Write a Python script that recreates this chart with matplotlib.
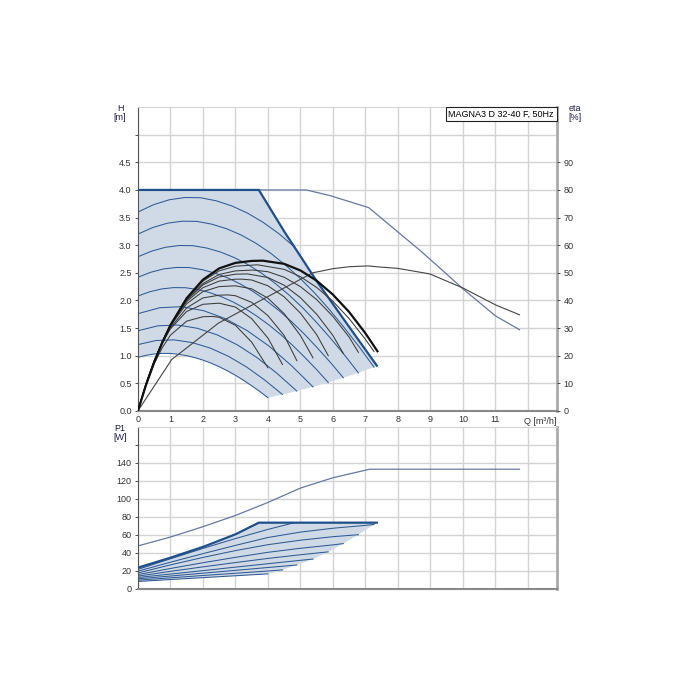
import matplotlib.pyplot as plt

plt.rcParams['font.family'] = ['Liberation Sans', 'DejaVu Sans']

# ---- head curves H [m] vs Q [m3/h] ----
max_q = [0, 3.72, 4.5, 5.5, 6.5, 7.35]
max_h = [4.0, 4.0, 3.25, 2.35, 1.52, 0.82]

# lower limit (ends of the speed curves)
min_q = [4.0, 4.448, 4.89, 5.388, 5.856, 6.32, 6.784, 7.264, 7.35]
min_h = [0.24, 0.297, 0.359, 0.435, 0.515, 0.6, 0.69, 0.792, 0.82]

speed_q = [
    [0, 0.25, 0.5, 0.75, 1, 1.25, 1.5, 1.75, 2, 2.25, 2.5, 2.75, 3, 3.25, 3.5, 3.75, 4.0],
    [0, 0.556, 1.112, 1.668, 2.224, 2.78, 3.336, 3.892, 4.448],
    [0, 0.611, 1.223, 1.834, 2.445, 3.057, 3.668, 4.279, 4.89],
    [0, 0.674, 1.347, 2.021, 2.694, 3.368, 4.041, 4.715, 5.388],
    [0, 0.366, 0.732, 1.098, 1.464, 1.83, 2.196, 2.562, 2.928, 3.294, 3.66, 4.026, 4.392, 4.758, 5.124, 5.49, 5.856],
    [0, 0.395, 0.79, 1.185, 1.58, 1.975, 2.37, 2.765, 3.16, 3.555, 3.95, 4.345, 4.74, 5.135, 5.53, 5.925, 6.32],
    [0, 0.424, 0.848, 1.272, 1.696, 2.12, 2.544, 2.968, 3.392, 3.816, 4.24, 4.664, 5.088, 5.512, 5.936, 6.36, 6.784],
    [0, 0.454, 0.908, 1.362, 1.816, 2.27, 2.724, 3.178, 3.632, 4.086, 4.54, 4.994, 5.448, 5.902, 6.356, 6.81, 7.264],
    [0, 0.482, 0.963, 1.445, 1.926, 2.408, 2.889, 3.371, 3.852, 4.334, 4.815],
]
speed_h = [
    [0.97, 1.006, 1.03, 1.041, 1.04, 1.025, 1.0, 0.965, 0.92, 0.865, 0.8, 0.727, 0.645, 0.554, 0.455, 0.351, 0.24],
    [1.2, 1.274, 1.286, 1.237, 1.138, 0.99, 0.798, 0.563, 0.297],
    [1.45, 1.54, 1.555, 1.495, 1.375, 1.196, 0.964, 0.68, 0.359],
    [1.76, 1.868, 1.887, 1.814, 1.669, 1.451, 1.17, 0.825, 0.435],
    [2.08, 2.157, 2.208, 2.232, 2.23, 2.198, 2.144, 2.069, 1.972, 1.855, 1.715, 1.559, 1.383, 1.188, 0.976, 0.753, 0.515],
    [2.42, 2.51, 2.57, 2.597, 2.595, 2.557, 2.495, 2.408, 2.295, 2.158, 1.996, 1.814, 1.609, 1.382, 1.135, 0.876, 0.6],
    [2.79, 2.893, 2.962, 2.994, 2.991, 2.948, 2.876, 2.775, 2.646, 2.488, 2.301, 2.091, 1.855, 1.593, 1.309, 1.009, 0.69],
    [3.2, 3.319, 3.398, 3.434, 3.431, 3.381, 3.299, 3.184, 3.035, 2.854, 2.639, 2.398, 2.128, 1.828, 1.501, 1.158, 0.792],
    [3.6, 3.733, 3.822, 3.863, 3.859, 3.804, 3.711, 3.581, 3.414, 3.21, 2.969],
]

# twin pump operation
twin_q = [0, 5.18, 5.9, 7.1, 8.65, 9.19, 10.0, 11.0, 11.74]
twin_h = [4.0, 4.0, 3.9, 3.68, 2.92, 2.64, 2.21, 1.72, 1.47]

# ---- efficiency eta [%] ----
eta_q = [
    [0, 0.25, 0.5, 0.75, 1, 1.5, 2, 2.29, 2.5, 3, 3.5, 4.0],
    [0, 0.25, 0.5, 0.75, 1, 1.5, 2, 2.5, 3, 3.5, 4, 4.448],
    [0, 0.25, 0.5, 0.75, 1, 1.5, 2, 2.5, 2.76, 3, 3.5, 4, 4.5, 4.89],
    [0, 0.25, 0.5, 0.75, 1, 1.5, 2, 2.5, 3, 3.5, 4, 4.5, 5, 5.388],
    [0, 0.25, 0.5, 0.75, 1, 1.5, 2, 2.5, 3, 3.2, 3.5, 4, 4.5, 5, 5.5, 5.856],
    [0, 0.25, 0.5, 0.75, 1, 1.5, 2, 2.5, 3, 3.37, 4, 4.5, 5, 5.5, 6, 6.32],
    [0, 0.25, 0.5, 0.75, 1, 1.5, 2, 2.5, 3, 3.53, 4, 4.5, 5, 5.5, 6, 6.5, 6.784],
    [0, 0.25, 0.5, 0.75, 1, 1.5, 2, 2.5, 3, 3.68, 4.5, 5, 5.5, 6, 6.5, 7, 7.264],
]
eta_v = [
    [0, 9.4, 17.0, 22.9, 27.4, 32.5, 34.1, 34.2, 33.9, 31.0, 24.9, 15.6],
    [0, 9.9, 18.1, 24.6, 29.7, 36.0, 38.6, 39.0, 37.6, 33.4, 26.4, 16.8],
    [0, 9.8, 18.0, 24.7, 30.1, 37.3, 40.9, 41.9, 42.0, 41.7, 39.3, 34.5, 27.3, 18.2],
    [0, 9.8, 18.1, 25.0, 30.8, 38.8, 43.2, 45.0, 45.3, 44.2, 40.8, 35.2, 27.3, 19.2],
    [0, 9.7, 18.0, 25.1, 31.0, 39.6, 44.6, 47.0, 47.7, 47.7, 47.4, 45.3, 41.3, 35.4, 27.6, 20.0],
    [0, 9.6, 17.9, 25.1, 31.1, 40.1, 45.6, 48.5, 49.5, 49.6, 48.3, 45.5, 41.0, 35.0, 27.3, 20.8],
    [0, 9.5, 17.7, 24.9, 30.9, 40.2, 46.1, 49.4, 50.7, 51.0, 50.4, 48.4, 45.0, 40.3, 34.2, 26.7, 21.2],
    [0, 9.5, 17.8, 25.0, 31.2, 40.7, 47.0, 50.7, 52.4, 52.9, 51.25, 48.6, 44.7, 39.7, 33.4, 25.9, 21.5],
]
eta_max_q = [0, 0.25, 0.5, 0.75, 1, 1.5, 2, 2.5, 3, 3.5, 3.84, 4.5, 5, 5.5, 6, 6.5, 7, 7.37]
eta_max_v = [0, 9.4, 17.6, 24.7, 31.0, 40.8, 47.5, 51.6, 53.6, 54.3, 54.4, 53.25, 50.85, 47.15, 42.1, 35.8, 28.1, 21.6]

eta_twin_q = [0, 1.04, 2.48, 3.92, 5.38, 6.0, 6.5, 7.08, 7.44, 8.0, 8.98, 10.0, 11.0, 11.74]
eta_twin_v = [0, 18.6, 31.8, 40.9, 50.0, 51.5, 52.2, 52.5, 52.1, 51.6, 49.6, 44.5, 38.4, 34.8]

# ---- power P1 [W] ----
pmax_q = [0, 1, 2, 3, 3.72, 7.35]
pmax_p = [23.4, 34.5, 46.5, 60.5, 73.5, 73.5]

pend_q = [4.0, 4.448, 4.89, 5.388, 5.856, 6.32, 6.784, 7.264, 7.35]
pend_p = [16.5, 20.9, 26.4, 33.0, 41.0, 50.2, 60.1, 71.5, 73.5]

pow_q = [
    [0, 1, 2, 3, 4.0],
    [0, 1, 2, 3, 4, 4.448],
    [0, 1, 2, 3, 4, 4.89],
    [0, 1, 2, 3, 4, 5, 5.388],
    [0, 1, 2, 3, 4, 5, 5.856],
    [0, 1, 2, 3, 4, 5, 6, 6.32],
    [0, 1, 2, 3, 4, 5, 6, 6.784],
    [0, 1, 2, 3, 4, 5, 6, 7, 7.264],
    [0, 1, 2, 3, 4, 4.815],
]
pow_p = [
    [8.0, 10.2, 12.3, 14.4, 16.5],
    [9.5, 12.1, 14.7, 17.2, 19.7, 20.9],
    [11.0, 14.1, 17.3, 20.4, 23.6, 26.4],
    [12.5, 16.3, 20.1, 24.0, 27.8, 31.6, 33.0],
    [14.0, 19.3, 24.3, 29.1, 33.7, 37.8, 41.0],
    [15.7, 22.5, 28.9, 34.9, 40.5, 45.0, 48.8, 50.2],
    [17.5, 26.5, 34.8, 42.4, 49.0, 54.0, 57.9, 60.1],
    [19.5, 29.5, 39.0, 48.2, 57.0, 63.0, 67.3, 70.5, 71.5],
    [21.5, 33.3, 44.8, 55.8, 66.0, 73.5],
]

ptwin_q = [0, 1, 2, 3, 4, 5, 6, 7.13, 11.74]
ptwin_p = [47.6, 57.5, 69.0, 81.5, 96.0, 112.0, 123.5, 133.0, 133.0]

title = 'MAGNA3 D 32-40 F, 50Hz'

BLUE = '#1f4f8a'
THIN = '#2f5a94'
TWIN = '#6678a3'
FILL = '#cfdae6'
GRID = '#d4d4d4'
LAB = '#1c1c4a'
FS = 6.5

fig = plt.figure(figsize=(7, 7), dpi=100)
ax = fig.add_axes([0.197, 0.413, 0.599, 0.434])
ax2 = ax.twinx()
axp = fig.add_axes([0.197, 0.159, 0.599, 0.231])


def style(a):
    a.set_xlim(0, 12.9)
    a.set_xticks(range(0, 13))
    a.grid(True, color=GRID, lw=1)
    a.set_axisbelow(True)
    a.spines['left'].set_color('#555555')
    a.spines['bottom'].set_color('#888888')
    a.spines['bottom'].set_linewidth(1.5)
    a.spines['right'].set_color('#aaaaaa')
    a.spines['right'].set_linewidth(2)
    a.spines['top'].set_color(GRID)
    a.tick_params(labelsize=FS, length=2.5, width=0.6, colors='#333333', pad=2)


style(ax)
ax.set_ylim(0, 5.5)
ax.set_yticks([i * 0.5 for i in range(11)])
ax.set_yticklabels(['%.1f' % (i * 0.5) for i in range(10)] + [''])
ax.set_xticklabels([str(i) for i in range(12)] + [''])
ax.tick_params(axis='x', length=0, pad=3)
ax.text(11.88, -0.11, 'Q [m³/h]', fontsize=FS, ha='left', va='top', color='#333333')

ax2.set_ylim(0, 110)
ax2.set_yticks(range(0, 100, 10))
ax2.tick_params(labelsize=FS, length=2.5, width=0.6, colors='#333333', pad=2)
for s in ax2.spines.values():
    s.set_visible(False)

# shaded operating area
shade_q = max_q + min_q[::-1] + speed_q[0][::-1]
shade_h = max_h + min_h[::-1] + speed_h[0][::-1]
ax.fill(shade_q, shade_h, color=FILL, lw=0, zorder=1)

for q, h in zip(speed_q, speed_h):
    ax.plot(q, h, color=THIN, lw=0.75, zorder=2)
ax.plot(twin_q, twin_h, color=TWIN, lw=0.9, zorder=2)
ax.plot(max_q, max_h, color=BLUE, lw=1.6, zorder=3)

for q, e in zip(eta_q, eta_v):
    ax2.plot(q, e, color='#3a3a3a', lw=0.75, zorder=2)
ax2.plot(eta_twin_q, eta_twin_v, color='#444444', lw=0.8, zorder=2)
ax2.plot(eta_max_q, eta_max_v, color='#111111', lw=1.6, zorder=3)

ax.text(-0.55, 5.56, 'H\n[m]', fontsize=FS, ha='center', va='top',
        linespacing=1.0, color=LAB)
ax2.text(13.45, 111.2, 'eta\n[%]', fontsize=FS, ha='center', va='top',
         linespacing=1.0, color=LAB)
ax.text(12.8, 5.37, title, fontsize=FS, ha='right', va='center',
        bbox=dict(boxstyle='square,pad=0.3', fc='white', ec='#222222', lw=0.8),
        zorder=5)

# power plot
style(axp)
axp.set_ylim(0, 180)
axp.set_yticks(range(0, 180, 20))
axp.set_yticklabels([str(v) for v in range(0, 160, 20)] + [''])
axp.tick_params(axis='x', labelbottom=False, length=0)

pshade_q = pmax_q + pend_q[::-1] + pow_q[0][::-1]
pshade_p = pmax_p + pend_p[::-1] + pow_p[0][::-1]
axp.fill(pshade_q, pshade_p, color=FILL, lw=0, zorder=1)
for q, p in zip(pow_q, pow_p):
    axp.plot(q, p, color=THIN, lw=0.75, zorder=2)
axp.plot(ptwin_q, ptwin_p, color=TWIN, lw=0.9, zorder=2)
axp.plot(pmax_q, pmax_p, color=BLUE, lw=1.6, zorder=3)
axp.text(-0.55, 183, 'P1\n[W]', fontsize=FS, ha='center', va='top',
         linespacing=1.0, color=LAB)

fig.savefig('out.png', dpi=100)
